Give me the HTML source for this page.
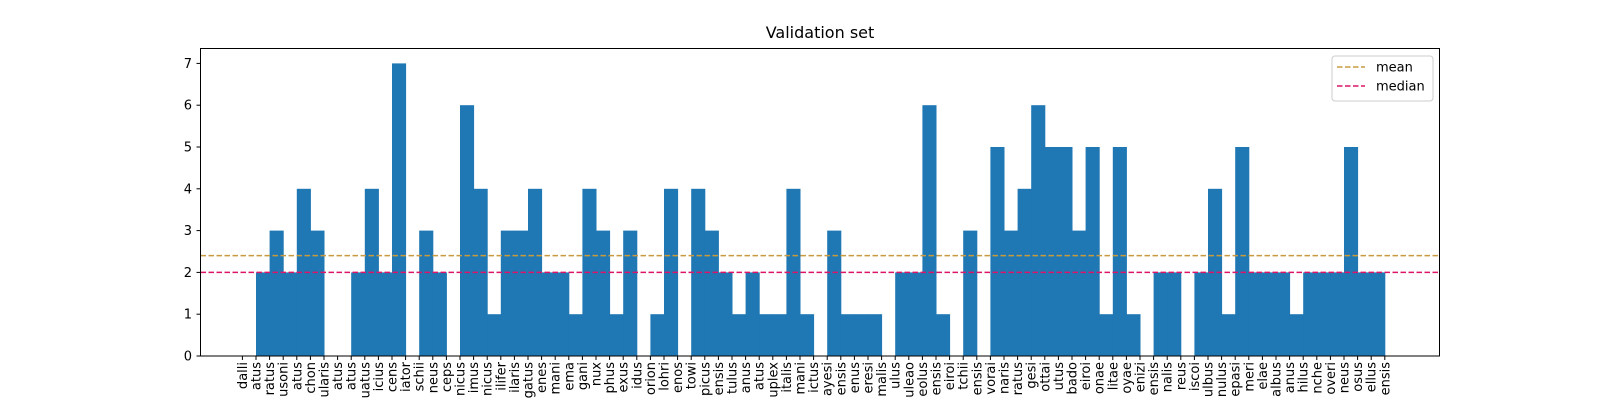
<!DOCTYPE html>
<html><head><meta charset="utf-8"><style>
html,body{margin:0;padding:0;background:#fff;}
svg{display:block;font-family:"DejaVu Sans","Liberation Sans",sans-serif;}
</style></head><body>
<svg id="chart" width="1600" height="400" viewBox="0 0 1600 400" xmlns="http://www.w3.org/2000/svg">
<rect x="0" y="0" width="1600" height="400" fill="#fff"/>
<text x="820" y="38" font-size="16" text-anchor="middle" fill="#000">Validation set</text>
<g id="bars"></g>
<g id="lines"></g>
<rect x="200.5" y="48.5" width="1239" height="307.5" fill="none" stroke="#000" stroke-width="1"/>
<g id="yaxis"></g>
<g id="xaxis"></g>
<g>
<rect x="1332" y="56" width="101" height="45" rx="3" fill="#fff" fill-opacity="0.8" stroke="#ccc"/>
<line x1="1337" y1="67" x2="1365" y2="67" stroke="#c99a3f" stroke-width="1.5" stroke-dasharray="5.5,2.5"/>
<text x="1376" y="71.5" font-size="13" fill="#000">mean</text>
<line x1="1337" y1="86" x2="1365" y2="86" stroke="#dc1566" stroke-width="1.5" stroke-dasharray="5.5,2.5"/>
<text x="1376" y="90.5" font-size="13" fill="#000">median</text>
</g>
</svg>
<script>
const categories = ["dalli","atus","ratus","usoni","atus","chon","ularis","atus","atus","uatus","icius","cens","iator","schii","neus","ceps","nicus","imus","nicus","ilifer","ilaris","gatus","enes","mani","ema","gani","nux","phus","exus","idus","orion","lohri","enos","towi","picus","ensis","tulus","anus","atus","uplex","italis","mani","ictus","ayesi","ensis","enus","eresi","malis","ulus","uleao","eolus","ensis","eiroi","tchii","ensis","vorai","naris","ratus","gesi","ottai","utus","bado","eiroi","onae","litae","oyae","enizi","ensis","nalis","reus","iscoi","ulbus","nulus","epasi","meri","elae","albus","anus","hilus","nche","overi","neus","osus","ellus","ensis"];
const values = [0,2,3,2,4,3,0,0,2,4,2,7,0,3,2,0,6,4,1,3,3,4,2,2,1,4,3,1,3,0,1,4,0,4,3,2,1,2,1,1,4,1,0,3,1,1,1,0,2,2,6,1,0,3,0,5,3,4,6,5,5,3,5,1,5,1,0,2,2,0,2,4,1,5,2,2,2,1,2,2,2,5,2,2];
const yTicks = [0,1,2,3,4,5,6,7];
const meanValue = [2.4];
const medianValue = [2];

const NS = "http://www.w3.org/2000/svg";
const X0 = 242.4, STEP = 13.6, Y0 = 356, UNIT = 41.8;
function xPos(i){ return X0 + STEP * i; }
function yPos(v){ return Y0 - v * UNIT; }
function mk(tag, attrs){ const e = document.createElementNS(NS, tag); for (const k in attrs) e.setAttribute(k, attrs[k]); return e; }

const barsG = document.getElementById('bars');
values.forEach((v, i) => {
  if (v <= 0) return;
  const r = mk('rect', {x: xPos(i), y: yPos(v), width: STEP + 0.5, height: Y0 - yPos(v), fill: '#1f77b4'});
  
  
  barsG.appendChild(r);
});

const linesG = document.getElementById('lines');
const ml = mk('line', {x1: 200.5, x2: 1439.5, y1: yPos(meanValue[0]), y2: yPos(meanValue[0]), stroke: '#c99a3f', 'stroke-width': 1.5, 'stroke-dasharray': '5.5,2.5'});


linesG.appendChild(ml);
const dl = mk('line', {x1: 200.5, x2: 1439.5, y1: yPos(medianValue[0]), y2: yPos(medianValue[0]), stroke: '#dc1566', 'stroke-width': 1.5, 'stroke-dasharray': '5.5,2.5'});


linesG.appendChild(dl);

const yG = document.getElementById('yaxis');
yTicks.forEach(t => {
  const y = yPos(t);
  const tk = mk('line', {x1: 196.5, x2: 200.5, y1: y, y2: y, stroke: '#000', 'stroke-width': 1});
  
  
  yG.appendChild(tk);
  const tx = mk('text', {x: 192, y: y + 4.5, 'font-size': 13, 'text-anchor': 'end', fill: '#000'});
  tx.textContent = String(t);
  
  
  yG.appendChild(tx);
});

const xG = document.getElementById('xaxis');
categories.forEach((c, i) => {
  const x = xPos(i);
  const tk = mk('line', {x1: x, x2: x, y1: 356, y2: 360, stroke: '#000', 'stroke-width': 1});
  
  
  xG.appendChild(tk);
  const tx = mk('text', {x: 0, y: 0, 'font-size': 13, 'text-anchor': 'end', fill: '#000', transform: 'translate(' + (x + 4.5) + ',362) rotate(-90)'});
  tx.textContent = c;
  
  
  xG.appendChild(tx);
});
</script>
</body></html>
